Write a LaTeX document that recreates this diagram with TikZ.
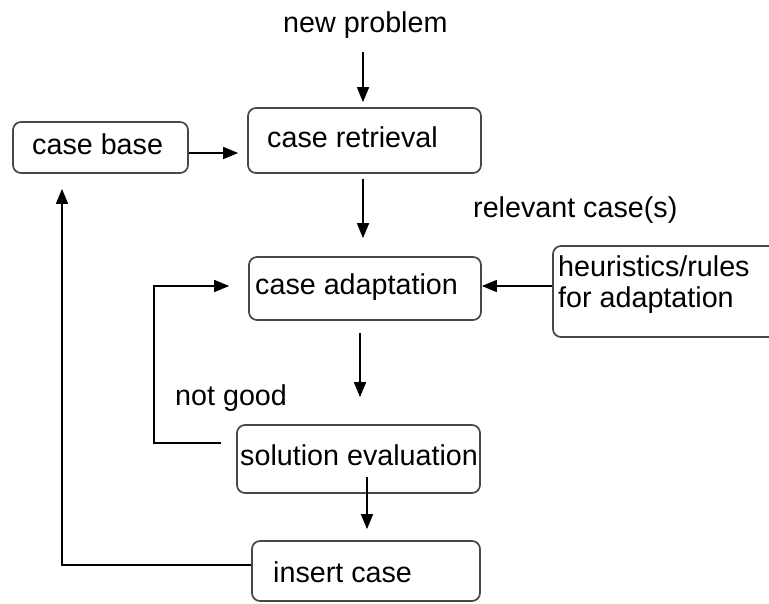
\documentclass[tikz,border=0pt]{standalone}
\usepackage{fontspec}
\setmainfont{Liberation Sans}
\usetikzlibrary{arrows.meta,calc}
\begin{document}
\begin{tikzpicture}[x=1pt,y=-1pt,
  box/.style={draw=black!72, line width=1.7pt, rounded corners=8pt, inner sep=0pt},
  lbl/.style={anchor=base west, inner sep=0pt, font=\fontsize{28.7}{31}\selectfont},
  arr/.style={line width=1.5pt, -{Triangle[length=15pt,width=12pt]}}]
\useasboundingbox (0,0) rectangle (769,604);
\clip (0,0) rectangle (769,604);

% process boxes
\node[box, minimum width=175pt, minimum height=51pt] (cb) at (100.5,147.5) {};
\node[box, minimum width=233pt, minimum height=65pt] (cr) at (364.5,140.5) {};
\node[box, minimum width=232pt, minimum height=63pt] (ca) at (365,288.5) {};
\node[box, minimum width=237pt, minimum height=91pt] (hr) at (671.5,291.5) {};
\node[box, minimum width=243pt, minimum height=68pt] (se) at (358.5,459) {};
\node[box, minimum width=228pt, minimum height=60pt] (ic) at (366,571) {};

% texts
\node[lbl] (np)  at (283,33)  {new problem};
\node[lbl] (cbt) at (32,155)  {case base};
\node[lbl] (crt) at (267,148) {case retrieval};
\node[lbl] (rel) at (473,218) {relevant case(s)};
\node[lbl] (cat) at (255,295) {case adaptation};
\node[lbl] (hr1) at (558,277) {heuristics/rules};
\node[lbl] (hr2) at (558,308) {for adaptation};
\node[lbl] (ng)  at (175,405) {not good};
\node[lbl] (set) at (240,465) {solution evaluation};
\node[lbl] (ict) at (273,582) {insert case};

% connectors
\draw[arr, shorten <=13pt, shorten >=5pt] (np.south -| 363,0) -- ($(cr.north)+(-1.5,0)$);
\draw[arr, shorten >=9pt] ($(cb.east)+(0,5.5)$) -- ($(cr.west)+(0,12.5)$);
\draw[arr, shorten <=5pt, shorten >=18pt] ($(cr.south)+(-1.5,0)$) -- ($(ca.north)+(-2,0)$);
\draw[arr] ($(hr.west)+(0,-5.5)$) -- ($(ca.east)+(0,-2.5)$);
\draw[arr, shorten <=12pt, shorten >=27pt] ($(ca.south)+(-5,0)$) -- ($(se.north)+(1.5,0)$);
\draw[arr] ($(se.west)+(-15,-16)$) -- ++(-67,0) |- ($(ca.west)+(-19,-2.5)$);
\draw[arr, shorten >=11pt] ($(se.south)+(8.5,-17)$) -- ($(ic.north)+(1,0)$);
\draw[arr, shorten >=15pt] ($(ic.west)+(0,-6)$) -| ($(cb.south)+(-38.5,0)$);
\end{tikzpicture}
\end{document}
